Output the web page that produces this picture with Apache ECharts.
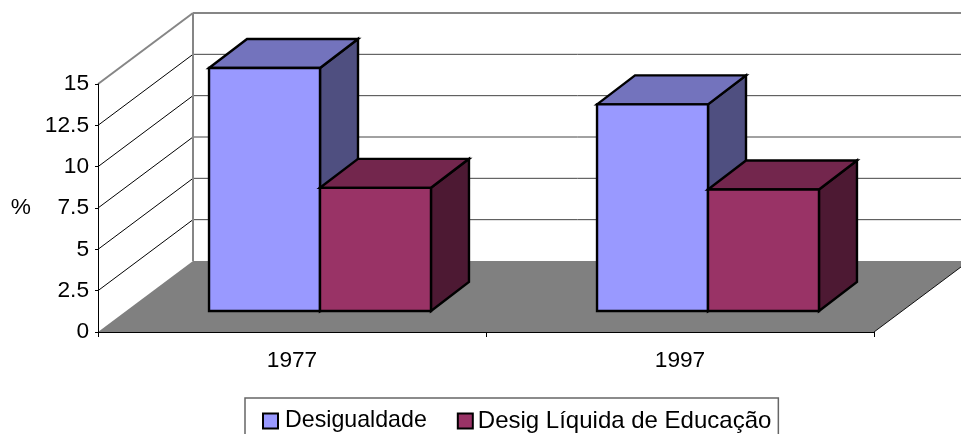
<!DOCTYPE html>
<html><head><meta charset="utf-8">
<style>html,body{margin:0;padding:0;background:#fff;overflow:hidden}#c{width:961px;height:434px}</style>
<script src="https://cdn.jsdelivr.net/npm/echarts@6/dist/echarts.min.js"></script>
</head><body><div id="c"></div>
<script>
const categories = ['1977', '1997'];
const desigualdade = [14.7, 12.5];
const desigLiquida = [7.45, 7.35];
const yTicks = [2.5, 5, 7.5, 10, 12.5];
const yMax = 15;
const seriesNames = ['Desigualdade', 'Desig Líquida de Educação'];

const WALL_DX = 95, WALL_DY = -71;      // full depth of the chart box
const PLANE_DX = 28, PLANE_DY = -21;    // bar front plane within the box
const BAR_DX = 38, BAR_DY = -29;        // bar depth
const BAR_FRACTION = 0.286;             // bar width as share of a category
const FONT = 'Liberation Sans, Arial, sans-serif';
const FS = 22.7;

function backdrop(params, api) {
  const cs = params.coordSys;
  const L = cs.x, R = cs.x + cs.width;
  const y0 = api.coord([0, 0])[1], yT = api.coord([0, yMax])[1];
  const children = [];
  children.push({ type: 'polygon', shape: { points: [[L, y0], [L + WALL_DX, y0 + WALL_DY], [R + WALL_DX, y0 + WALL_DY], [R, y0]] },
    style: { fill: '#808080', stroke: null } });
  const line = (x1, y1, x2, y2, color, w) => children.push({ type: 'line', shape: { x1, y1, x2, y2 }, style: { stroke: color, lineWidth: w, fill: null } });
  yTicks.forEach(v => {
    const y = api.coord([0, v])[1];
    line(L, y, L + WALL_DX, y + WALL_DY, '#000', 1);
    line(L + WALL_DX, y + WALL_DY, R + WALL_DX, y + WALL_DY, '#444', 1);
  });
  line(R, y0, R + WALL_DX, y0 + WALL_DY, '#111', 1);
  line(L, yT, L + WALL_DX, yT + WALL_DY, '#868686', 2);
  line(L + WALL_DX, yT + WALL_DY, R + WALL_DX, yT + WALL_DY, '#868686', 2);
  line(L + WALL_DX, yT + WALL_DY, L + WALL_DX, y0 + WALL_DY, '#868686', 2);
  return { type: 'group', children };
}

function bar3d(side, cFront, cTop, cSide) {
  return function (params, api) {
    const c = api.coord([api.value(0), api.value(1)]);
    const b = api.coord([api.value(0), 0]);
    const w = api.size([1, 0])[0] * BAR_FRACTION;
    const x1 = c[0] + PLANE_DX + (side === 0 ? -w : 0);
    const x2 = x1 + w;
    const yt = c[1] + PLANE_DY, yb = b[1] + PLANE_DY;
    const st = f => ({ fill: f, stroke: '#000', lineWidth: 2.4, lineJoin: 'miter' });
    return { type: 'group', children: [
      { type: 'polygon', shape: { points: [[x2, yt], [x2 + BAR_DX, yt + BAR_DY], [x2 + BAR_DX, yb + BAR_DY], [x2, yb]] }, style: st(cSide) },
      { type: 'polygon', shape: { points: [[x1, yt], [x1 + BAR_DX, yt + BAR_DY], [x2 + BAR_DX, yt + BAR_DY], [x2, yt]] }, style: st(cTop) },
      { type: 'rect', shape: { x: x1, y: yt, width: w, height: yb - yt }, style: st(cFront) }
    ] };
  };
}

const chart = echarts.init(document.getElementById('c'), null, { renderer: 'canvas' });
chart.setOption({
  animation: false,
  backgroundColor: '#fff',
  grid: { left: 98, top: 84, width: 776, height: 248, outerBoundsMode: 'none' },
  legend: {
    left: 245, top: 398, orient: 'horizontal', selectedMode: false,
    data: [
      { name: seriesNames[0], textStyle: { fontSize: 23.2, padding: [0, 0, 0, 2] } },
      { name: seriesNames[1], textStyle: { fontSize: 24, padding: 0 } }
    ],
    icon: 'rect', itemWidth: 15, itemHeight: 15, itemGap: 30,
    padding: [11, 7, 40, 17],
    borderColor: '#666', borderWidth: 1.5, backgroundColor: '#fff',
    itemStyle: { borderColor: '#000', borderWidth: 2 },
    textStyle: { fontFamily: FONT, fontSize: FS, color: '#000' }
  },
  xAxis: {
    type: 'category', data: categories, z: 10,
    axisLine: { lineStyle: { color: '#000', width: 1 } },
    axisTick: { show: true, length: 5, alignWithLabel: false, lineStyle: { color: '#000' } },
    axisLabel: { fontFamily: FONT, fontSize: FS, color: '#000', margin: 17 },
    splitLine: { show: false }
  },
  yAxis: {
    type: 'value', min: 0, max: yMax, interval: 2.5, z: 10,
    name: '%', nameLocation: 'middle', nameRotate: 0, nameGap: 67,
    nameTextStyle: { fontFamily: FONT, fontSize: FS, color: '#000' },
    axisLine: { show: true, lineStyle: { color: '#000', width: 1 } },
    axisTick: { show: true, length: 3, lineStyle: { color: '#000' } },
    axisLabel: { fontFamily: FONT, fontSize: FS, color: '#000', margin: 9 },
    splitLine: { show: false }
  },
  series: [
    { type: 'custom', name: 'wall', silent: true, z: 1, renderItem: backdrop, data: [[0, 0]], encode: { x: 0, y: 1 } },
    { type: 'custom', name: seriesNames[0], z: 2, itemStyle: { color: '#9999FF' },
      renderItem: bar3d(0, '#9999FF', '#7373BD', '#4F4F80'),
      data: desigualdade.map((v, i) => [i, v]), encode: { x: 0, y: 1 } },
    { type: 'custom', name: seriesNames[1], z: 3, itemStyle: { color: '#993366' },
      renderItem: bar3d(1, '#993366', '#73264D', '#4D1933'),
      data: desigLiquida.map((v, i) => [i, v]), encode: { x: 0, y: 1 } }
  ]
});
</script></body></html>
